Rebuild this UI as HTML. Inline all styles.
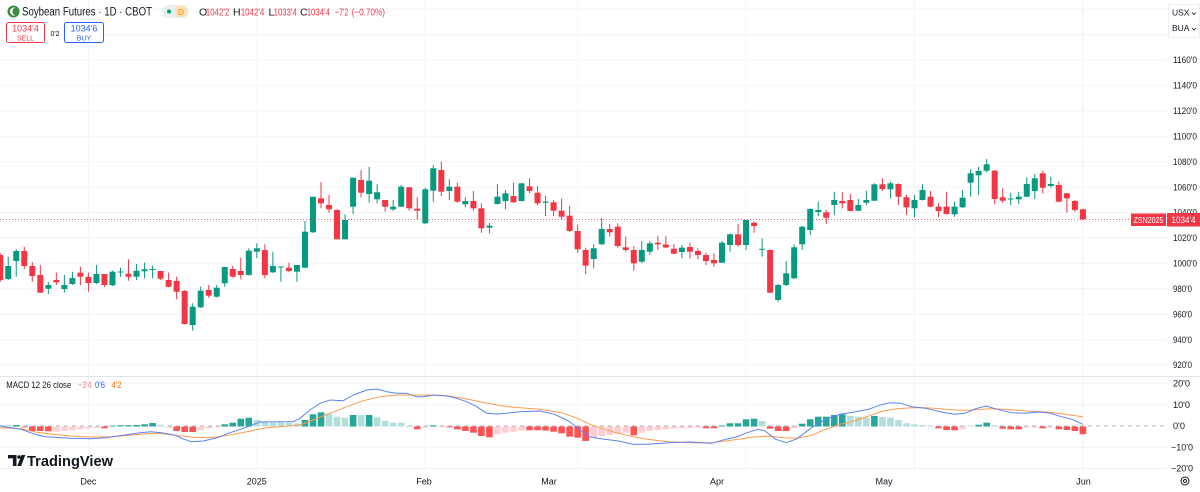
<!DOCTYPE html>
<html><head><meta charset="utf-8"><style>
html,body{margin:0;padding:0;background:#fff;}
svg{display:block;font-family:"Liberation Sans",sans-serif;}
</style></head><body>
<svg id="s" width="1200" height="492" viewBox="0 0 1200 492" xmlns="http://www.w3.org/2000/svg">
<rect width="1200" height="492" fill="#fff"/>
<g id="grid"></g>
<g id="macd"></g>
<g id="candles"></g>
<line x1="0" y1="219.5" x2="1131" y2="219.5" stroke="#f23645" stroke-opacity="0.75" stroke-width="1" stroke-dasharray="1,2"/>
<line x1="0" y1="376.5" x2="1200" y2="376.5" stroke="#e0e3eb" stroke-width="1"/>
<g id="axis" font-size="9" fill="#131722"></g>
<rect x="1131" y="213.5" width="35" height="12.5" fill="#f23645"/>
<text x="1148.5" y="222.8" font-size="8.5" fill="#fff" text-anchor="middle" textLength="30" lengthAdjust="spacingAndGlyphs">ZSN2025</text>
<rect x="1167" y="213" width="33" height="13.5" fill="#f23645"/>
<text x="1183.5" y="222.8" font-size="9" fill="#fff" text-anchor="middle" textLength="24" lengthAdjust="spacingAndGlyphs">1034'4</text>
<rect x="1168.5" y="4.5" width="31" height="33" fill="#fff" stroke="#eef0f4"/>
<text x="1172" y="15.5" font-size="8.5" fill="#131722">USX</text>
<path d="M1192,12.5 l2,2 l2,-2" fill="none" stroke="#131722" stroke-width="0.8"/>
<text x="1172" y="31" font-size="8.5" fill="#131722">BUA</text>
<path d="M1192,28 l2,2 l2,-2" fill="none" stroke="#131722" stroke-width="0.8"/>
<circle cx="13.5" cy="11.5" r="6" fill="#3c8d40"/>
<path d="M15.5,7.8 A4,4 0 1 0 15.5,15.2 A3,3.6 0 1 1 15.5,7.8 Z" fill="#fff"/>
<text x="22" y="15.5" font-size="11.5" fill="#131722" textLength="130" lengthAdjust="spacingAndGlyphs">Soybean Futures · 1D · CBOT</text>
<rect x="162" y="5" width="27" height="13" rx="6.5" fill="#e8f0f2"/>
<circle cx="169" cy="11.5" r="2" fill="#089981"/>
<circle cx="181" cy="11.5" r="6" fill="#ffe0b2"/>
<text x="181" y="14.8" font-size="8.5" fill="#ff9800" text-anchor="middle">D</text>
<g font-size="10.5">
<text x="199" y="15.5" fill="#131722">O</text>
<text x="205.7" y="15.5" fill="#f23645" textLength="23.6" lengthAdjust="spacingAndGlyphs">1042'2</text>
<text x="233" y="15.5" fill="#131722">H</text>
<text x="240.7" y="15.5" fill="#f23645" textLength="23.6" lengthAdjust="spacingAndGlyphs">1042'4</text>
<text x="268.5" y="15.5" fill="#131722">L</text>
<text x="273.5" y="15.5" fill="#f23645" textLength="23.4" lengthAdjust="spacingAndGlyphs">1033'4</text>
<text x="300" y="15.5" fill="#131722">C</text>
<text x="306.7" y="15.5" fill="#f23645" textLength="23.3" lengthAdjust="spacingAndGlyphs">1034'4</text>
<text x="335" y="15.5" fill="#f23645" textLength="13.3" lengthAdjust="spacingAndGlyphs">−7'2</text>
<text x="351.7" y="15.5" fill="#f23645" textLength="33.3" lengthAdjust="spacingAndGlyphs">(−0.70%)</text>
</g>
<rect x="6.5" y="22.5" width="38" height="20" rx="2" fill="#fff" stroke="#f23645" stroke-width="1"/>
<text x="25.5" y="31.5" font-size="9" fill="#f23645" text-anchor="middle">1034'4</text>
<text x="25.5" y="40.5" font-size="7" fill="#f23645" text-anchor="middle">SELL</text>
<text x="55" y="36" font-size="7" fill="#131722" text-anchor="middle">0'2</text>
<rect x="64.5" y="22.5" width="39" height="20" rx="2" fill="#fff" stroke="#2962ff" stroke-width="1"/>
<text x="84" y="31.5" font-size="9" fill="#2962ff" text-anchor="middle">1034'6</text>
<text x="84" y="40.5" font-size="7" fill="#2962ff" text-anchor="middle">BUY</text>
<text x="6.3" y="388" font-size="9.5" fill="#131722" textLength="65" lengthAdjust="spacingAndGlyphs">MACD 12 26 close</text>
<text x="78" y="388" font-size="9.5" fill="#f77c80" textLength="13.5" lengthAdjust="spacingAndGlyphs">−3'4</text>
<text x="95" y="388" font-size="9.5" fill="#2962ff" textLength="10" lengthAdjust="spacingAndGlyphs">0'6</text>
<text x="111.5" y="388" font-size="9.5" fill="#ff6d00" textLength="10" lengthAdjust="spacingAndGlyphs">4'2</text>
<path d="M8,455 h8.5 v11 h-3.6 v-7.6 h-4.9 z" fill="#131722"/>
<circle cx="19" cy="457" r="1.8" fill="#131722"/>
<path d="M21.5,455 h3.8 l-4.2,11 h-3.8 z" fill="#131722"/>
<text x="27" y="466" font-size="15" font-weight="bold" fill="#131722" textLength="86" lengthAdjust="spacingAndGlyphs">TradingView</text>
<circle cx="1185" cy="481" r="4" fill="none" stroke="#131722" stroke-width="1"/>
<circle cx="1185" cy="481" r="1.5" fill="none" stroke="#131722" stroke-width="0.9"/>
</svg>
<script>
(function(){
function add(g,html){document.getElementById(g).insertAdjacentHTML('beforeend',html);}
var X=function(i){return 0.2+8.02*i;};
var g='';
var py=[[1200,9.3],[1180,34.7],[1160,60],[1140,85.4],[1120,110.8],[1100,136.2],[1080,161.7],[1060,187.1],[1040,212.5],[1020,237.9],[1000,263.3],[980,288.7],[960,314.1],[940,339.6],[920,365]];
py.forEach(function(p){g+='<line x1="0" x2="1167" y1="'+p[1]+'" y2="'+p[1]+'" stroke="#f2f4f8" stroke-width="1"/>';});
[383.5,404.7,447.3,468.5].forEach(function(y){g+='<line x1="0" x2="1167" y1="'+y+'" y2="'+y+'" stroke="#f2f4f8" stroke-width="1"/>';});
var vx=[88.4,256.8,425,577.6,746,914.4,1082.9];
vx.forEach(function(x){g+='<line x1="'+x+'" x2="'+x+'" y1="0" y2="472" stroke="#f2f4f8" stroke-width="1"/>';});
g+='<line x1="0" x2="1167" y1="426" y2="426" stroke="#b2b5be" stroke-width="1" stroke-dasharray="4,4"/>';
add('grid',g);
var a='';
py.forEach(function(p){ if(p[0]>1160) return; var t=p[0]+"'0"; var tl=p[0]>=1000?24:19;
 a+='<text x="1173" y="'+(p[1]+3.2)+'" textLength="'+tl+'" lengthAdjust="spacingAndGlyphs">'+t+'</text>';});
[["20'0",383.5,17],["10'0",404.7,17],["0'0",426,12],["−10'0",447.3,22],["−20'0",468.5,22]].forEach(function(m){
 var x=m[0].charAt(0)=='−'?1171:1173;
 a+='<text x="'+x+'" y="'+(m[1]+3.2)+'" textLength="'+m[2]+'" lengthAdjust="spacingAndGlyphs">'+m[0]+'</text>';});
var ml=['Dec','2025','Feb','Mar','Apr','May','Jun'];
var lx=[88.4,256.8,424,549,717,884,1083.5];
ml.forEach(function(t,k){a+='<text x="'+lx[k]+'" y="484.5" text-anchor="middle">'+t+'</text>';});
add('axis',a);
var C=[[253,255,280,282,0],[256.7,266,279,280,1],[249,251,261,276.7,1],[246.7,251,266,269,0],[262,266,276,281.7,0],[265,275,292.7,293,0],[282,285,288.7,294,1],[272.7,280,282.3,285,0],[275,285,289,292.7,1],[271.7,278,284,285,1],
[266.7,272.7,276.7,285,0],[272.7,277,283,291.7,0],[265,274,283,284,1],[274,274,285,287,0],[270.7,271.7,285.3,286,1],[267.7,271.5,272.5,276.7,1],[259.3,273.7,276.7,280.7,0],[264,270.7,276.7,280,1],[262.7,269.3,271.3,278.3,1],[265.7,269,270,278.3,1],
[271,271,278.7,280,0],[272.7,280,286.7,287.3,0],[276.7,281,291.7,299.3,0],[290,291,324,324.5,0],[303.3,306.7,325,330.7,1],[286.7,290.7,307.3,308,1],[285,290,295.7,297.7,0],[285,287.7,296.7,297.5,1],[266.7,267,283.3,286.7,1],[265.7,269,276.7,277.5,0],
[257.7,271,275,279.3,0],[248.3,250.7,275,275.5,1],[243.3,248.3,251.7,258.3,1],[244.3,250,275,278.3,0],[251.7,266,272.3,273,1],[266.5,266.5,267.5,281.7,1],[262.7,267.7,271,272.3,0],[265,265,271.7,281.7,1],[221,231.7,267.7,268,1],[196.7,196.7,232.3,233,1],
[182.3,198.3,203.3,208.3,0],[195,205,209.3,212.7,0],[209.3,210,239.3,239.5,0],[214.3,220,239.3,239.5,1],[177.7,177.7,206.7,214,1],[170,180,192.7,197.3,0],[166.7,180.7,194,202.7,1],[184.3,192.3,199.3,203.3,1],[200,200,206.7,211.7,0],[200,206.7,209.3,211,1],
[185,186.7,206.7,207,1],[187,187.3,208.3,210.7,0],[197.3,208.7,210.7,219.3,0],[187.7,189.3,223.3,224,1],[165,168.3,190.7,201.7,1],[161.7,170,191.7,196,0],[179.3,186.7,191,200,1],[182.7,186.7,201.7,202.7,0],[197.3,201,204.3,207.3,1],[191,201,208.3,210.7,0],
[203.3,208.3,228.3,232.7,0],[222.7,225.7,227.7,233.3,1],[184,196.7,204,204.5,1],[190,193.3,201,209.3,1],[182.7,196,202.3,203,0],[183,183.3,201,201.5,1],[178.3,186.3,191,193.3,0],[186,192.7,203.3,205.3,0],[196,201.5,202.7,216,1],[200,202.3,210.7,216,0],
[198.7,210.7,216.7,219.3,0],[205.7,215.7,231,232,0],[224.3,231,249.3,252.7,0],[247.7,250,265.7,274.3,0],[244.3,248.3,259,268.3,1],[217.7,229,244.3,245,1],[224,229,232.3,236.7,0],[223.3,226.7,246,247.7,0],[236.7,247.3,250,251.7,0],[246,250,263.3,270.7,0],
[241,250,261.7,263,1],[241,243.3,251.7,255,1],[236,242.7,244.3,250,0],[236,244.5,247.5,248,0],[244,248.7,253.7,254.3,0],[245,247.7,252,258.3,1],[242.7,247,251.7,258.3,0],[248.3,251,255,259.3,0],[252.7,255,261,265,0],[253.3,260,263.3,266.7,0],
[241,242.7,262.7,263,1],[233.3,234.3,245,251.7,1],[224,234.3,245,246.7,0],[220,220,245,250,1],[221.7,222.7,226,232.7,0],[238.3,248.8,249.8,256.7,1],[249.5,250,292.7,293.3,0],[284,285,300,301.7,1],[261,273.3,285,286,1],[244.3,247.3,278.3,279,1],
[226,226.7,244.3,250,1],[208.3,209,230,235,1],[201.7,210,212,216,1],[210,212.3,217.7,224,0],[191.7,200,205,215,1],[192.3,201,203.3,208.3,0],[194,200,211,211.5,0],[199,205,210.7,211.3,1],[190.7,200,202.7,205,1],[183.3,184.3,200.7,201,1],
[178.3,184.3,189,191,0],[181.7,183.3,189.3,198.3,1],[183.3,184,196.7,205,0],[195,197.3,207.3,215,0],[195,200,208.3,217.3,1],[184.3,190,200,200.5,1],[191,196.7,206.7,207.3,0],[203.3,206.7,211,217.3,0],[191.7,206.7,214,214.5,0],[201.7,206.7,214.3,216.7,1],
[190,197.7,207.3,208,1],[169.3,173.3,182.7,196.7,1],[166.7,171,175.3,195,1],[159,164.3,170.7,172.3,1],[170,170.7,199,204.3,0],[188.3,197.3,200.7,202.7,0],[192.7,198.5,199.5,205,1],[191.7,196.7,199.3,204,1],[177.3,184,196.7,197.3,1],[174,178.3,191,199,1],
[170.7,173.3,187.7,193.3,0],[176.7,184,186,187.7,1],[181.7,185,201.7,202.3,0],[193,193.3,198.3,212.7,0],[200,201,210,211.7,0],[208.5,209.3,219.3,220,0]];
var s='';
C.forEach(function(d,i){var x=X(i);var col=d[4]?'#089981':'#f23645';
 s+='<line x1="'+x.toFixed(2)+'" x2="'+x.toFixed(2)+'" y1="'+d[0]+'" y2="'+d[3]+'" stroke="'+col+'" stroke-width="1"/>';
 var h=Math.max(1,d[2]-d[1]);
 s+='<rect x="'+(x-3).toFixed(2)+'" y="'+d[1]+'" width="6" height="'+h.toFixed(2)+'" fill="'+col+'"/>';});
add('candles',s);
var H=[[425,1],[425.3,1],[425,0],[427.3,2],[431,2],[431,2],[431.3,2],[431.7,3],[431,3],[430.3,3],
[429.3,3],[428.3,3],[428,3],[428.3,2],[425.7,0],[425.3,0],[425.3,0],[425,0],[424.3,0],[423,0],
[424.7,1],[427.7,3],[431,2],[432,2],[432,2],[430.3,3],[428.3,3],[427.3,3],[424.3,0],[422.7,0],
[418.7,0],[417.7,0],[420,1],[422,1],[422.7,1],[422.5,1],[423,1],[423.5,1],[420,0],[414.3,0],
[412.3,0],[413.3,1],[416.7,1],[417.7,1],[415,0],[415,1],[415,0],[417.3,1],[420.7,1],[422.7,1],
[422.7,1],[426,1],[429.3,2],[427.7,3],[425.3,0],[427.3,3],[427.3,2],[429.3,2],[431,2],[432.7,2],
[436,2],[437.3,2],[434.3,3],[432.7,3],[431.7,3],[430.5,3],[430.3,2],[430.3,2],[430.5,2],[431.7,2],
[433.3,2],[436.7,2],[437.7,2],[441,2],[437.7,3],[436,3],[434.7,3],[433.7,3],[432.7,3],[435.3,2],
[432.7,3],[431,3],[430,3],[429.3,3],[428.7,3],[428.3,3],[428,3],[427.7,3],[428.3,2],[428.3,2],
[425.5,0],[423.3,0],[423.3,0],[419.3,0],[418.7,0],[421,1],[428.7,2],[431,2],[431,2],[428.3,3],
[423.7,0],[419.3,0],[416.7,0],[416.7,0],[415,0],[414.3,0],[416,1],[417,1],[417.7,1],[416,0],
[417,1],[417.7,1],[420,1],[423.3,1],[424.3,1],[425,1],[425.6,1],[428.3,2],[430,2],[430.3,2],
[429.3,3],[425.6,1],[424.7,0],[422.7,0],[425.3,1],[428.7,2],[429.3,2],[429.3,2],[427.7,3],[427.7,3],
[428.3,2],[427.7,3],[429.3,2],[430,2],[431,2],[434.3,2]];
var cols=['#26a69a','#b2dfdb','#ff5252','#ffcdd2'];
var b=426.5,m='';
H.forEach(function(d,i){var x=X(i);var y1=Math.min(d[0],b),y2=Math.max(d[0],b);var h=Math.max(0.8,y2-y1);
 m+='<rect x="'+(x-3.3).toFixed(2)+'" y="'+y1.toFixed(2)+'" width="6.6" height="'+h.toFixed(2)+'" fill="'+cols[d[1]]+'"/>';});
var blue="0,426 21,429.3 35,434.3 45.6,436.7 70.2,438.3 91.2,438.7 105.2,437.7 122.8,435.3 140.3,432.7 150.8,431.7 161.3,432.7 175.4,435.3 182.4,438.7 191.2,441.7 203.4,441 217.5,437.7 228,433.3 245.5,427.7 259.6,422 280,421.7 293.3,421.7 300,418.3 310,410 320,403.3 330,400 343.3,400.7 353.3,395 366.7,390 376.7,389 386.7,391.7 396.7,393.3 406.7,393.3 416.7,396.7 423.3,396.7 433.3,395 446.7,396 456.7,398.3 466.7,401.7 476.7,406.7 486.7,413.3 496.7,414 506.7,413.3 520,411.7 540,411 554.3,414.3 568.6,421 579.3,429.3 590,437 604.3,439.3 618.6,441 632.9,444.3 647.1,444.3 668.6,442.7 690,442 711.4,443.3 725.7,439.3 736.4,437 747.1,432.7 757.9,429.3 765,431 775.7,439.3 786.4,442.7 797.1,438.7 811.4,427.7 825.7,419.3 840,414.3 854.3,412 868.6,409.3 879.3,405.3 890,402.7 900.7,403.3 911.4,406.7 925.7,408.3 940,411.7 954.3,414.3 965,413.3 975.7,408.7 986.4,406 997.1,409.3 1011.4,412.7 1025.7,413.3 1040,412 1050.7,413.3 1061.4,416.7 1072.1,419.3 1082.9,424.3";
var orange="0,427.7 21,428.7 35,432 52.6,434.3 70.2,436 91.2,437 112.2,436.7 140.3,434.3 157.8,433.3 175.4,435.3 192.9,437.3 210.5,437.7 228,435.3 245.5,432 266.6,427.7 280,426.7 300,425 313.3,420 330,413.3 346.7,406.7 363.3,400.7 380,396.7 396.7,395 413.3,395 430,395 446.7,395.7 463.3,398.3 480,401.7 496.7,405 513.3,407.3 540,409.3 561.4,412.7 575.7,417.7 590,424.3 604.3,429.3 618.6,433.3 632.9,436.7 647.1,439.3 668.6,441.7 690,442.7 711.4,442.7 732.9,440 754.3,437 768.6,436 782.9,437.7 797.1,438.3 811.4,435.3 825.7,429.3 840,424.3 854.3,421 868.6,416 882.9,411 897.1,408.7 911.4,407.7 925.7,407.7 940,408.7 954.3,410 968.6,410.3 990,408.7 1004.3,409.3 1025.7,411 1047.1,412 1061.4,413.7 1082.9,416.7";
m+='<polyline points="'+orange+'" fill="none" stroke="#ff9a4d" stroke-width="1" stroke-linejoin="round"/>';
m+='<polyline points="'+blue+'" fill="none" stroke="#5b82f5" stroke-width="1" stroke-linejoin="round"/>';
add('macd',m);
})();
</script>
</body></html>
